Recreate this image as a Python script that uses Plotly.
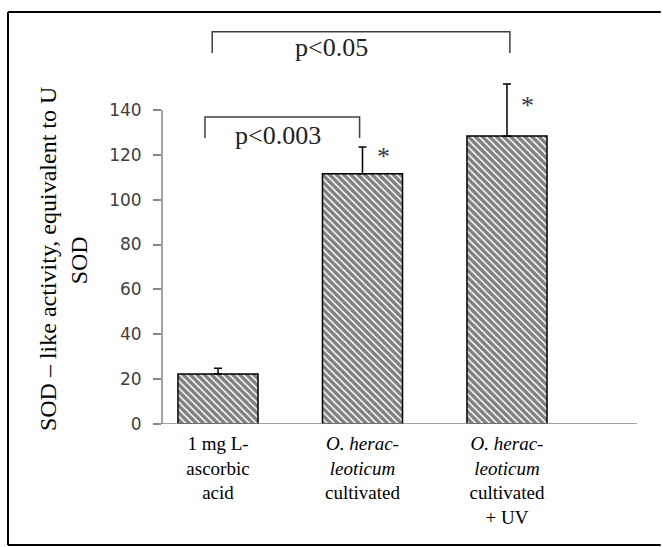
import plotly.graph_objects as go

categories = ["1 mg L-ascorbic acid", "O. heracleoticum cultivated", "O. heracleoticum cultivated + UV"]
tick_labels = ["1 mg L-<br>ascorbic<br>acid",
               "<i>O. herac-</i><br><i>leoticum</i><br>cultivated",
               "<i>O. herac-</i><br><i>leoticum</i><br>cultivated<br>+ UV"]
sod_values = [22.3, 111.5, 128.4]
sod_errors = [2.5, 12.0, 23.2]
y_ticks = [0, 20, 40, 60, 80, 100, 120, 140]

# significance brackets: (left idx, right idx, bar height, arm bottom, label, label y, label pos fraction)
brackets = [
    (0, 1, 136.9, 127.5, "p<0.003", 128.5, 0.47),
    (0, 2, 174.8, 165.4, "p<0.05", 168.0, 0.40),
]
starred = [1, 2]

SERIF = "Liberation Serif, Times New Roman, serif"

fig = go.Figure()
fig.add_trace(go.Bar(
    x=categories, y=sod_values, width=0.554,
    marker=dict(color="white", line=dict(color="black", width=1.5),
                pattern=dict(shape="\\", fgcolor="black", bgcolor="white", size=5, solidity=0.7)),
    error_y=dict(type="data", array=sod_errors, arrayminus=[0]*3, symmetric=False,
                 color="black", thickness=1.5, width=4),
    showlegend=False,
))

gray = "#868686"
# y axis line only up to last tick
fig.add_shape(type="line", xref="x domain", yref="y", x0=0, x1=0, y0=0, y1=y_ticks[-1],
              line=dict(color=gray, width=1.5))
# x axis line, starting at tick length left of y axis
fig.add_shape(type="line", xref="paper", yref="y", x0=-8/475, x1=1, y0=0, y1=0,
              line=dict(color=gray, width=1.5))

bracket_color = "#404040"
for li, ri, top, bot, label, ly, frac in brackets:
    xl = li - (0.09 if ri == 1 else 0.04)
    xr = ri + (-0.02 if ri == 1 else 0.02)
    fig.add_shape(type="path", xref="x", yref="y",
                  path=f"M {xl},{bot} L {xl},{top} L {xr},{top} L {xr},{bot}",
                  line=dict(color=bracket_color, width=1.5))
    fig.add_annotation(x=xl + (xr - xl) * frac, y=ly, text=label, showarrow=False,
                       xref="x", yref="y", yanchor="middle",
                       font=dict(family=SERIF, size=26, color="#222222"))

for i in starred:
    fig.add_annotation(x=i, y=sod_values[i] + sod_errors[i] / 2, text="*", showarrow=False,
                       xref="x", yref="y", xshift=21, yshift=4, yanchor="middle",
                       font=dict(family=SERIF, size=26, color="#3a3355"))

# y-axis title (two lines)
fig.add_annotation(x=-0.24, y=0.389, xref="paper", yref="paper", textangle=-90,
                   xanchor="center", yanchor="middle",
                   text="SOD \u2013 like activity, equivalent to U", showarrow=False,
                   font=dict(family=SERIF, size=24, color="black"))
fig.add_annotation(x=-0.1747, y=0.386, xref="paper", yref="paper", textangle=-90,
                   xanchor="center", yanchor="middle",
                   text="SOD", showarrow=False,
                   font=dict(family=SERIF, size=24, color="black"))

# outer frame (left, top, bottom)
fig.add_shape(type="line", xref="paper", yref="paper", x0=-0.3242, x1=1.05, y0=0.9717, y1=0.9717,
              line=dict(color="black", width=2))
fig.add_shape(type="line", xref="paper", yref="paper", x0=-0.3242, x1=-0.3242, y0=0.9717, y1=-0.2854,
              line=dict(color="black", width=2))
fig.add_shape(type="line", xref="paper", yref="paper", x0=-0.3242, x1=1.05, y0=-0.2854, y1=-0.2854,
              line=dict(color="black", width=2))

fig.update_layout(
    width=663, height=547,
    margin=dict(l=162, r=26, t=0, b=123),
    plot_bgcolor="white", paper_bgcolor="white",
    xaxis=dict(range=[-0.3875, 2.8997], tickmode="array", tickvals=categories, ticktext=tick_labels,
               showline=False, ticks="", showgrid=False, zeroline=False, ticklabelstandoff=6,
               tickfont=dict(family=SERIF, size=19, color="black")),
    yaxis=dict(range=[0, 189], tickvals=y_ticks, showline=False, showgrid=False, zeroline=False,
               ticks="outside", ticklen=8, tickcolor=gray, tickwidth=1.5, ticklabelstandoff=8,
               tickfont=dict(family="DejaVu Sans", size=17, color="#404040")),
)

fig.write_html("out.html", config={"displayModeBar": False},
               post_script="document.body.style.margin='0';document.documentElement.style.overflow='hidden';")
